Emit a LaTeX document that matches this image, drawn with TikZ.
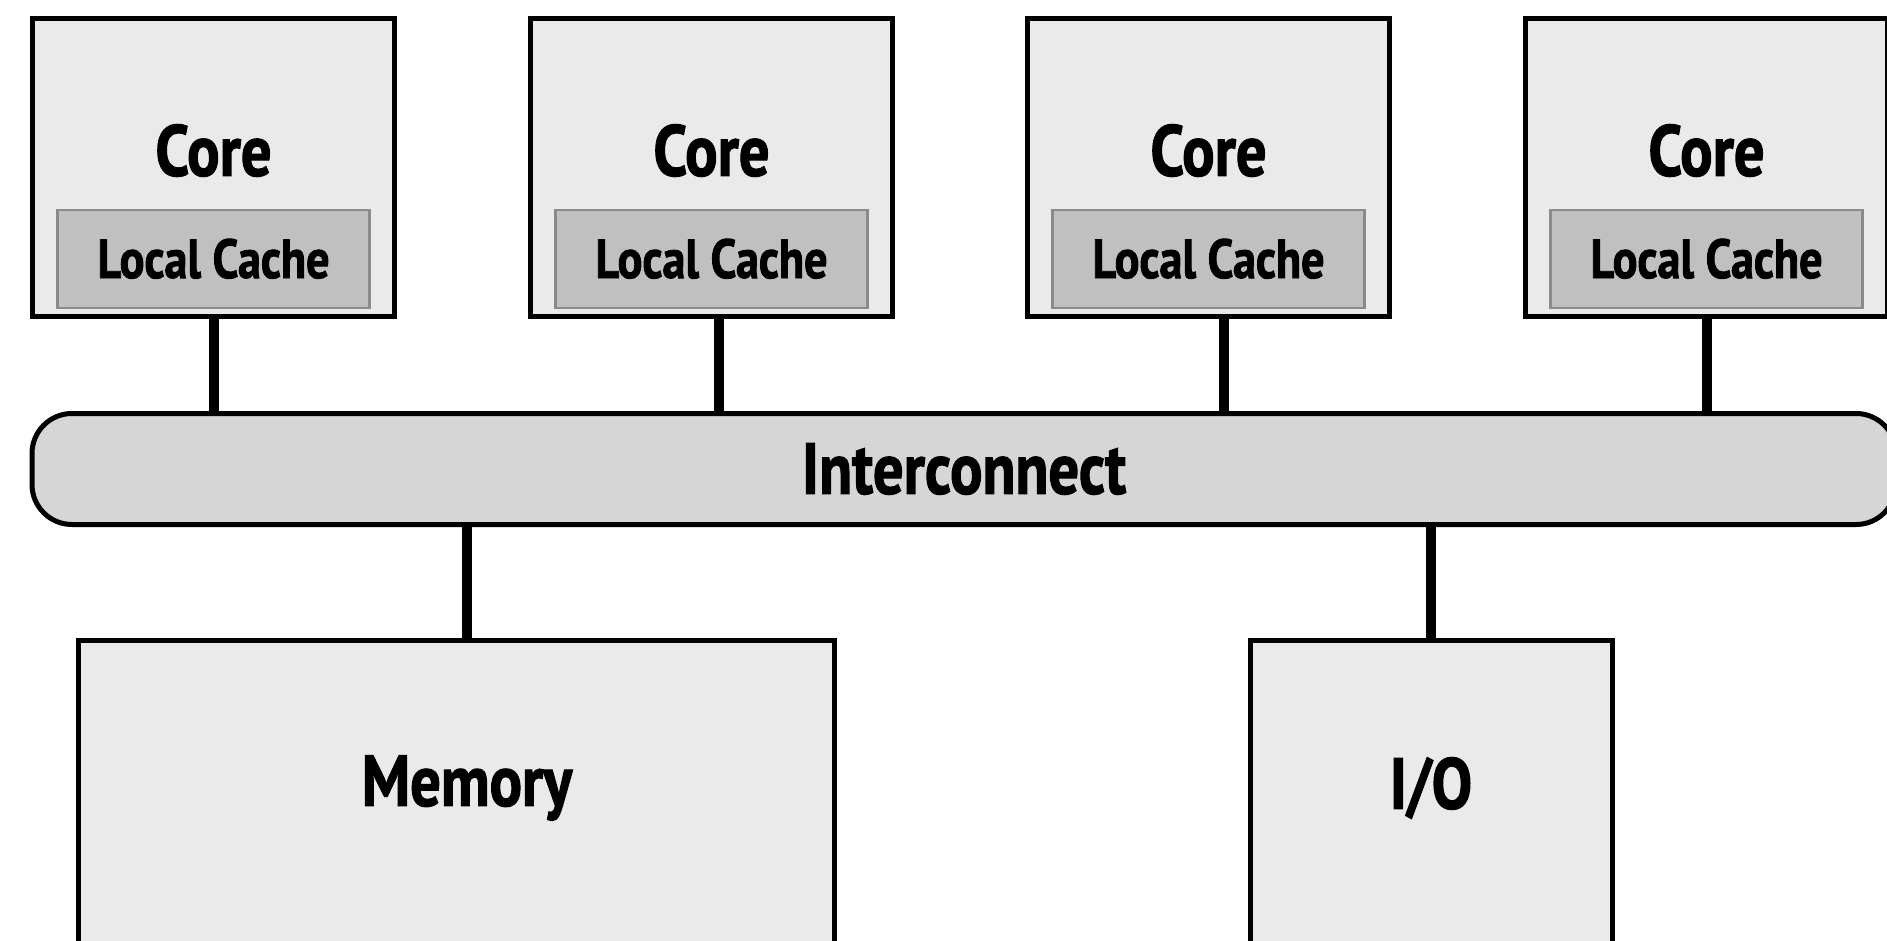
\documentclass[tikz,border=0pt]{standalone}
\usepackage{fontspec}
\setmainfont{PT Sans}[FakeStretch=0.84, BoldFeatures={FakeBold=1.6}]
\usepackage{tikz}
\usetikzlibrary{positioning}
\definecolor{boxgray}{HTML}{EAEAEA}
\definecolor{cachegray}{HTML}{C0C0C0}
\definecolor{busgray}{HTML}{D6D6D6}
\definecolor{cacheline}{HTML}{8A8A8A}
\tikzstyle{bigtext} = [font=\fontsize{72}{74}\selectfont\bfseries, inner sep=0pt]
\tikzstyle{core} = [rectangle, minimum width=362pt, minimum height=298pt,
draw=black, line width=5pt, fill=boxgray, inner sep=0pt]
\tikzstyle{cache} = [rectangle, minimum width=312pt, minimum height=98pt,
draw=cacheline, line width=2.5pt, fill=cachegray, inner sep=0pt,
font=\fontsize{55}{57}\selectfont\bfseries]
\tikzstyle{bus} = [rectangle, rounded corners=40pt, minimum width=1864pt, minimum height=111pt,
draw=black, line width=5pt, fill=busgray, inner sep=0pt]
\tikzstyle{unit} = [rectangle, minimum height=400pt, draw=black, line width=5pt,
fill=boxgray, inner sep=0pt]
\tikzstyle{link} = [line width=10pt]

\begin{document}
\begin{tikzpicture}[x=1pt, y=1pt]
\clip (0,0) rectangle (1887,-940);

% ------------------------- nodes -------------------------

% ----- node: cores
\node(core1) [core, label={[bigtext, yshift=17pt]center:Core}] at (213.5,-167.5) {};
\node(core2) [core, right=131pt of core1, label={[bigtext, yshift=17pt]center:Core}] {};
\node(core3) [core, right=130pt of core2, label={[bigtext, yshift=17pt]center:Core}] {};
\node(core4) [core, right=131pt of core3, label={[bigtext, yshift=17pt]center:Core}] {};
% ----- node: caches
\node(cache1) [cache, above=10pt of core1.south] {Local Cache};
\node(cache2) [cache, above=10pt of core2.south] {Local Cache};
\node(cache3) [cache, above=10pt of core3.south] {Local Cache};
\node(cache4) [cache, above=10pt of core4.south] {Local Cache};
% ----- node: interconnect
\node(bus) [bus, font=\fontsize{72}{74}\selectfont\bfseries] at (964,-469) {Interconnect};
% ----- node: memory and io
\node(mem) [unit, minimum width=756pt, label={[bigtext, xshift=11pt, yshift=52pt]center:Memory}] at (456,-840) {};
\node(io) [unit, minimum width=362pt, label={[bigtext, yshift=52pt]center:I/O}] at (1431,-840) {};

% ------------------------- connections -------------------------
\draw[link](core1.south)--(core1.south |- bus.north);
\draw[link]([xshift=7pt]core2.south)--([xshift=7pt]core2.south |- bus.north);
\draw[link]([xshift=15pt]core3.south)--([xshift=15pt]core3.south |- bus.north);
\draw[link](core4.south)--(core4.south |- bus.north);
\draw[link]([xshift=11pt]mem.north)--([xshift=11pt]mem.north |- bus.south);
\draw[link](io.north)--(io.north |- bus.south);

\end{tikzpicture}
\end{document}
